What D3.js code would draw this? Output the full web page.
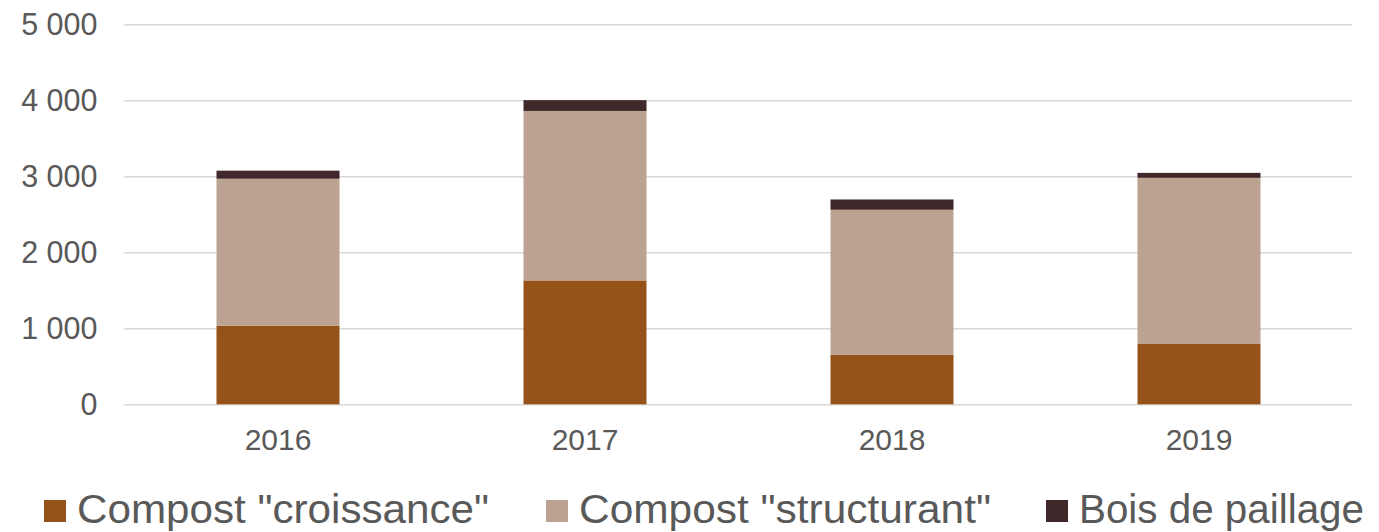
<!DOCTYPE html>
<html><head><meta charset="utf-8">
<script src="https://cdn.jsdelivr.net/npm/d3@7"></script>
<style>body{margin:0;background:#fff}svg{display:block}text{font-family:"Liberation Sans",Arial,sans-serif;fill:#595959}</style>
</head><body><svg id="c" width="1379" height="532"></svg>
<script>
const years = ["2016","2017","2018","2019"];
const seriesNames = ['Compost "croissance"','Compost "structurant"','Bois de paillage'];
const croissance = [1035, 1630, 650, 800];
const structurant = [1933, 2230, 1910, 2180];
const bois = [106, 142, 135, 65];
const yTicks = [0,1000,2000,3000,4000,5000];
const colors = ["#955219","#BCA290","#40272A"];

const svg = d3.select("#c");
const x = d3.scaleBand().domain(years).range([124.5,1352.5]).padding(0);
const y = d3.scaleLinear().domain([0,5000]).range([404.3,24.3]);
const fmt = v => d3.format(",")(v).replace(/,/g," ");

const gy = svg.append("g").attr("transform","translate(124.5,0)")
  .call(d3.axisLeft(y).tickValues(yTicks).tickSize(-1228).tickPadding(27).tickFormat(fmt));
gy.select(".domain").remove();
gy.selectAll("line").attr("stroke","#d9d9d9").attr("stroke-width",1.5);
gy.selectAll("text").attr("font-size",30.5).attr("fill","#595959").style("font-family","Liberation Sans, Arial, sans-serif");

const gx = svg.append("g").attr("transform","translate(0,404.3)")
  .call(d3.axisBottom(x).tickSize(0).tickPadding(24));
gx.select(".domain").remove();
gx.selectAll("text").attr("font-size",30).attr("fill","#595959").style("font-family","Liberation Sans, Arial, sans-serif");

const data = years.map((yr,i)=>({year:yr, c:croissance[i], s:structurant[i], b:bois[i]}));
const stack = d3.stack().keys(["c","s","b"])(data);
const bw = 123;
svg.append("g").selectAll("g").data(stack).join("g").attr("fill",(d,i)=>colors[i])
  .selectAll("rect").data(d=>d).join("rect")
  .attr("x",d=>x(d.data.year)+x.bandwidth()/2-bw/2)
  .attr("width",bw)
  .attr("y",d=>y(d[1]))
  .attr("height",d=>y(d[0])-y(d[1]));

const legX = [44, 546, 1046];
const legW = [412, 412, 285];
const lg = svg.append("g");
seriesNames.forEach((n,i)=>{
  lg.append("rect").attr("x",legX[i]).attr("y",500).attr("width",22).attr("height",22).attr("fill",colors[i]);
  lg.append("text").attr("x",legX[i]+33).attr("y",523).attr("font-size",40)
    .attr("textLength",legW[i]).attr("lengthAdjust","spacingAndGlyphs").text(n);
});
</script></body></html>
